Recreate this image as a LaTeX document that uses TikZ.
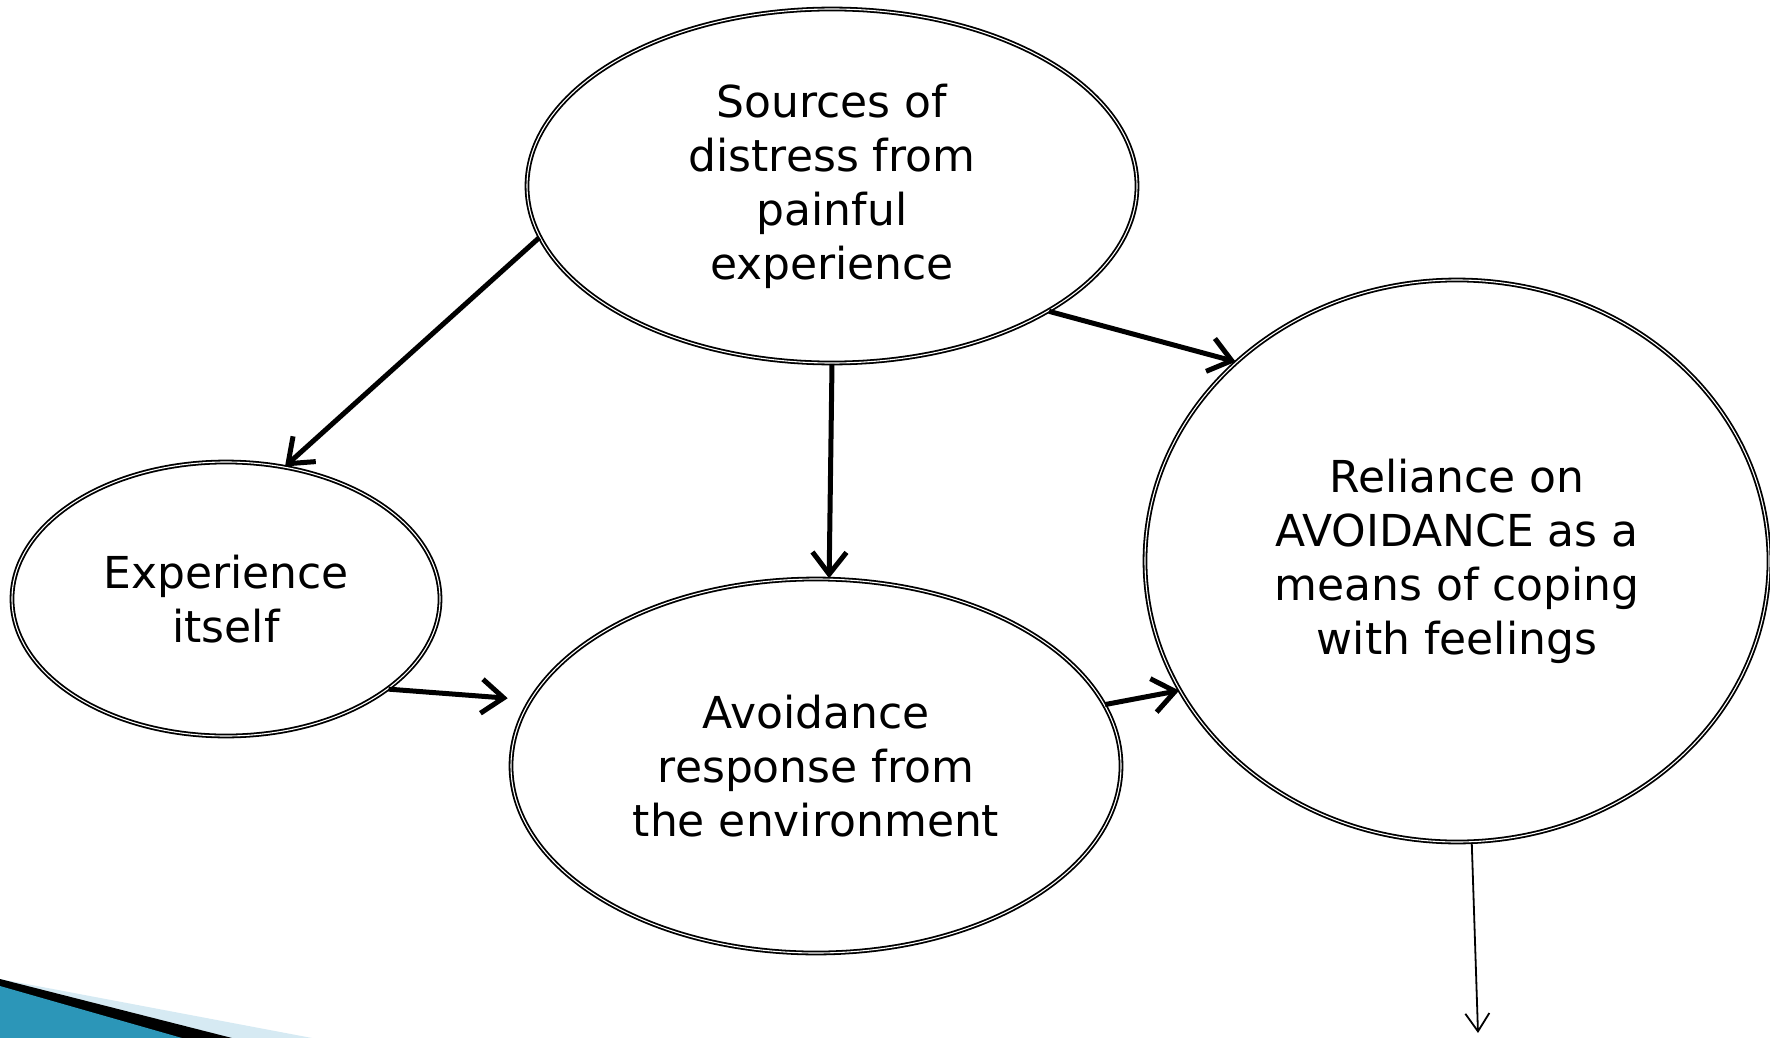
\documentclass[tikz,border=0pt]{standalone}
\usepackage{fontspec}
\setmainfont{DejaVu Sans}
\usetikzlibrary{arrows.meta, shapes.geometric}

\tikzset{
  bubble/.style={ellipse, draw, line width=1.8pt, double, double distance=1.1pt,
    inner sep=0pt, align=center, font=\fontsize{44}{54}\selectfont},
  thickarrow/.style={line width=5pt, -{Straight Barb[length=22pt, width=34pt, line width=5pt]}},
  thinarrow/.style={line width=1.8pt, -{Straight Barb[length=18pt, width=24pt, line width=1.8pt]}}
}

\begin{document}
\begin{tikzpicture}[x=1pt, y=-1pt]
\useasboundingbox (0,0) rectangle (1770,1038);
\fill[fill={rgb,255:red,214;green,234;blue,243}] (0,979) -- (312,1038) -- (0,1038) -- cycle;
\fill[black] (0,979) -- (232,1038) -- (0,1038) -- cycle;
\fill[fill={rgb,255:red,44;green,150;blue,184}] (0,986) -- (182,1038) -- (0,1038) -- cycle;
\node[bubble, minimum width=610pt, minimum height=354pt] (src) at (832,186)
  {Sources of\\distress from\\painful\\experience};
\node[bubble, minimum width=428pt, minimum height=274pt] (exp) at (226,599)
  {Experience\\itself};
\node[bubble, minimum width=610pt, minimum height=374pt] (avd) at (816,766)
  {Avoidance\\response from\\the environment};
\node[bubble, minimum width=624pt, minimum height=562pt] (rel) at (1457,561)
  {Reliance on\\AVOIDANCE as a\\means of coping\\with feelings};
\coordinate (out) at (1478,1033);
\draw[thickarrow] (src.190) -- (exp.66);
\draw[thickarrow] (src.south) -- (avd.86);
\draw[thickarrow] (src.330) -- (rel.138);
\draw[thickarrow, shorten >=22pt] (exp.331) -- (avd.167);
\draw[thickarrow] (avd.12) -- (rel.205);
\draw[thinarrow] (rel.273) -- (out);
\end{tikzpicture}
\end{document}
